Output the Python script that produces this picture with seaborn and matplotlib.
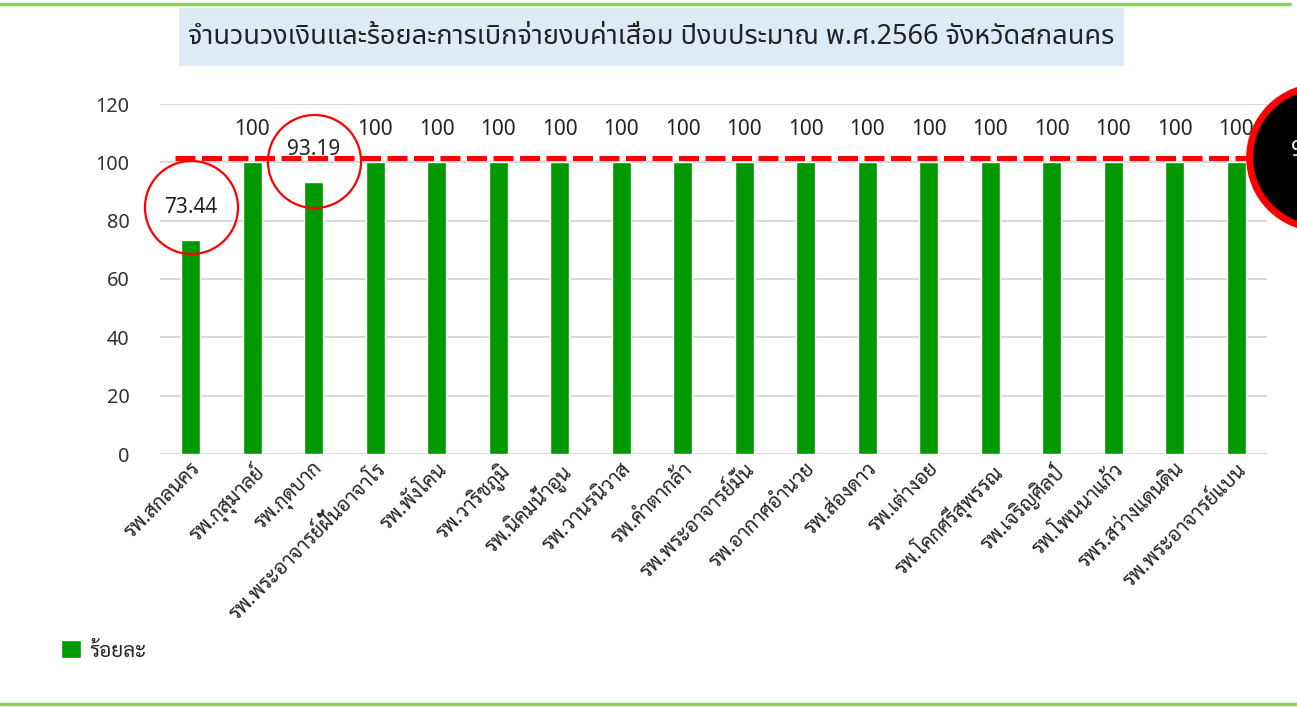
import matplotlib
matplotlib.use("Agg")
import matplotlib.pyplot as plt
from matplotlib.lines import Line2D
from matplotlib.patches import Rectangle
import seaborn as sns

# ข้อมูล: ร้อยละการเบิกจ่ายงบค่าเสื่อม ปีงบประมาณ 2566
hospitals = [
    "รพ.สกลนคร", "รพ.กุสุมาลย์", "รพ.กุดบาก", "รพ.พระอาจารย์ฝั้นอาจาโร",
    "รพ.พังโคน", "รพ.วาริชภูมิ", "รพ.นิคมน้ำอูน", "รพ.วานรนิวาส",
    "รพ.คำตากล้า", "รพ.พระอาจารย์มั่น", "รพ.อากาศอำนวย", "รพ.ส่องดาว",
    "รพ.เต่างอย", "รพ.โคกศรีสุพรรณ", "รพ.เจริญศิลป์", "รพ.โพนนาแก้ว",
    "รพร.สว่างแดนดิน", "รพ.พระอาจารย์แบน",
]
percent = [73.44, 100, 93.19, 100, 100, 100, 100, 100, 100,
           100, 100, 100, 100, 100, 100, 100, 100, 100]
target = 101.5
highlight = ["รพ.สกลนคร", "รพ.กุดบาก"]
yticks = [0, 20, 40, 60, 80, 100, 120]

title = "จำนวนวงเงินและร้อยละการเบิกจ่ายงบค่าเสื่อม ปีงบประมาณ พ.ศ.2566 จังหวัดสกลนคร"
legend_label = "ร้อยละ"

sns.set_style("white")
thai_fonts = ["Noto Sans Thai", "Sarabun", "DejaVu Sans"]
looped_fonts = ["Sarabun", "Noto Sans Thai", "DejaVu Sans"]
plt.rcParams["font.family"] = thai_fonts

bar_color = "#009900"
grid_color = "#d9d9d9"

fig = plt.figure(figsize=(12.97, 7.07), dpi=100)
ax = fig.add_axes([160 / 1297, 1 - 454 / 707, 1107 / 1297, 350 / 707])

sns.barplot(x=hospitals, y=percent, color=bar_color, width=0.31,
            saturation=1, ax=ax)

ax.set_ylim(0, 120)
ax.set_xlim(-0.5, len(hospitals) - 0.5)
ax.set_yticks(yticks)
ax.yaxis.grid(True, color=grid_color, linewidth=1.5)
ax.set_axisbelow(True)
for s in ax.spines.values():
    s.set_visible(False)
ax.tick_params(axis="both", length=0)
ax.tick_params(axis="y", labelsize=14.3, labelcolor="#333333", pad=22)
ax.set_xlabel("")
ax.set_ylabel("")

ax.set_xticks(range(len(hospitals)))
ax.set_xticklabels(hospitals, rotation=45, ha="right", rotation_mode="anchor",
                   fontsize=14.5, family=looped_fonts, color="#222222")
ax.tick_params(axis="x", pad=4)

# ป้ายค่าบนแท่ง
for cont in ax.containers:
    ax.bar_label(cont, labels=[f"{v:g}" for v in percent], padding=16,
                 fontsize=15, color="#222222")

# เส้นเป้าหมาย (เส้นประสีแดง)
ax.axhline(target, xmin=0.0136, xmax=1.0, color="#ff0000", linewidth=3.6,
           linestyle=(0, (4.0, 1.3)), zorder=5)

# วงกลมเน้นค่าที่ต่ำกว่าเป้า (ครอบป้ายค่า)
circle_offsets = [11.3, 7.3]
for name, off in zip(highlight, circle_offsets):
    i = hospitals.index(name)
    ax.plot([i], [percent[i] + off], marker="o", markersize=67,
            markerfacecolor="none", markeredgecolor="#ff0000",
            markeredgewidth=1.6, clip_on=False, zorder=6)

# วงกลมสีดำด้านขวา (ถูกตัดขอบ)
ax.plot([18.36], [101.8], marker="o", markersize=102, markerfacecolor="black",
        markeredgecolor="#ff0000", markeredgewidth=5, clip_on=False, zorder=7)
fig.text(1291 / 1297, 1 - 150 / 707, "9", color="white", fontsize=16,
         va="center", ha="left", zorder=8)

# กล่องชื่อกราฟ
fig.add_artist(Rectangle((179 / 1297, 1 - 66 / 707), 945 / 1297, 58 / 707,
                         transform=fig.transFigure, facecolor="#deebf7",
                         edgecolor="none", zorder=0))
fig.text(651 / 1297, 1 - 37 / 707, title, ha="center", va="center",
         fontsize=19.5, color="#222222")

# เส้นขอบสีเขียว บน/ล่าง
fig.add_artist(Line2D([0, 1290 / 1297], [1 - 4 / 707] * 2, color="#92d050",
                      linewidth=2.5, transform=fig.transFigure))
fig.add_artist(Line2D([0, 1], [1 - 704 / 707] * 2, color="#92d050",
                      linewidth=2.5, transform=fig.transFigure))

# คำอธิบายสัญลักษณ์
handles = [Rectangle((0, 0), 1, 1, facecolor=bar_color)]
fig.legend(handles, [legend_label], loc="center left",
           bbox_to_anchor=(61 / 1297, 1 - 651 / 707), frameon=False,
           borderpad=0, borderaxespad=0,
           handlelength=0.95, handleheight=0.95, handletextpad=0.4,
           prop={"family": looped_fonts, "size": 15})

fig.savefig("out.png", dpi=100)
